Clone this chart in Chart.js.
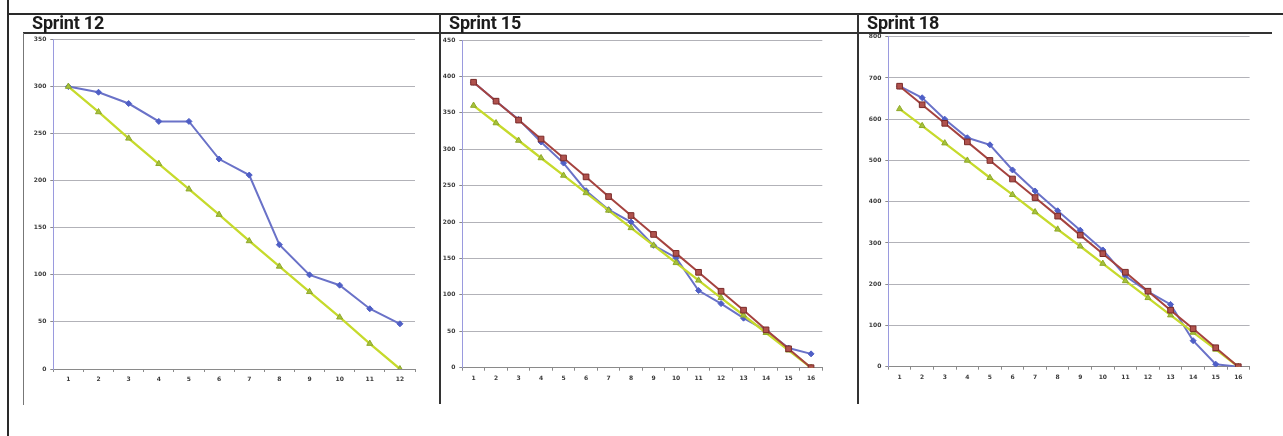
<!DOCTYPE html>
<html>
<head>
<meta charset="utf-8">
<script src="https://cdn.jsdelivr.net/npm/chart.js@4/dist/chart.umd.min.js"></script>
<style>
  html, body { margin: 0; padding: 0; background: #fff; }
  body { position: relative; width: 1283px; height: 436px; overflow: hidden; }
  .rule { position: absolute; background: #2a2a2a; }
  .title { position: absolute; font-family: Roboto, "Open Sans", sans-serif; font-weight: 700;
           font-size: 18px; line-height: 18px; color: #1c1c1c; white-space: nowrap; letter-spacing: -0.2px; }
  canvas { position: absolute; }
</style>
</head>
<body>
<!-- table frame around the three sprint panels -->
<div class="rule" style="left:7px; top:0; width:2px; height:436px;"></div>
<div class="rule" style="left:7px; top:13px; width:1276px; height:2px;"></div>
<div class="rule" style="left:23px; top:32px; width:1249px; height:2px; background:#333;"></div>
<div class="rule" style="left:23px; top:33px; width:1px; height:372px; background:#777;"></div>
<div class="rule" style="left:439px; top:14px; width:2px; height:390px; background:#333;"></div>
<div class="rule" style="left:857px; top:14px; width:2px; height:390px; background:#333;"></div>

<canvas id="c12" width="400" height="380" style="left:24px; top:24px;"></canvas>
<canvas id="c15" width="400" height="380" style="left:442px; top:24px;"></canvas>
<canvas id="c18" width="410" height="380" style="left:860px; top:24px;"></canvas>

<div class="title" style="left:32px; top:14px;">Sprint 12</div>
<div class="title" style="left:449px; top:14px;">Sprint 15</div>
<div class="title" style="left:867px; top:14px;">Sprint 18</div>

<script>
// Sprint 12 burndown (days 1-12)
const s12Days = ['1','2','3','4','5','6','7','8','9','10','11','12'];
const s12Remaining = [300, 294, 282, 263, 263, 223, 206, 132, 100, 89, 64, 48];
const s12Ideal = [300, 273, 245, 218, 191, 164, 136, 109, 82, 55, 27, 0];
const s12Max = 350, s12Step = 50;

// Sprint 15 burndown (days 1-16)
const s15Days = ['1','2','3','4','5','6','7','8','9','10','11','12','13','14','15','16'];
const s15Remaining = [392, 366, 341, 310, 281, 243, 217, 200, 168, 151, 106, 88, 68, 51, 27, 19];
const s15Ideal = [360, 336, 312, 288, 264, 240, 216, 192, 168, 144, 120, 96, 72, 48, 24, 0];
const s15Planned = [392, 366, 340, 314, 288, 262, 235, 209, 183, 157, 131, 105, 79, 52, 26, 0];
const s15Max = 450, s15Step = 50;

// Sprint 18 burndown (days 1-16)
const s18Days = ['1','2','3','4','5','6','7','8','9','10','11','12','13','14','15','16'];
const s18Remaining = [680, 652, 600, 555, 538, 477, 426, 378, 331, 283, 220, 182, 151, 63, 6, 0];
const s18Ideal = [625, 584, 542, 500, 458, 417, 375, 333, 292, 250, 208, 167, 125, 83, 42, 0];
const s18Planned = [680, 635, 590, 545, 500, 455, 410, 365, 319, 274, 229, 183, 137, 92, 46, 0];
const s18Max = 800, s18Step = 100;

const BLUE = '#6a72c8', BLUE_PT = '#4f5fc6';
const GREEN = '#c6da2c', GREEN_PT = '#a6c23a';
const RED = '#a5433f', RED_PT = '#b0524d', RED_EDGE = '#7a2b29';

function remainingSet(data) {
  return { data, borderColor: BLUE, borderWidth: 2, pointStyle: 'rectRot', pointRadius: 3,
           pointBackgroundColor: BLUE_PT, pointBorderColor: BLUE_PT, pointBorderWidth: 1 };
}
function idealSet(data) {
  return { data, borderColor: GREEN, borderWidth: 2.3, pointStyle: 'triangle', pointRadius: 3.5,
           pointBackgroundColor: GREEN_PT, pointBorderColor: '#8fa82a', pointBorderWidth: 1 };
}
function plannedSet(data) {
  return { data, borderColor: RED, borderWidth: 2, pointStyle: 'rect', pointRadius: 4,
           pointBackgroundColor: RED_PT, pointBorderColor: RED_EDGE, pointBorderWidth: 1 };
}

const tickFont = { family: '"DejaVu Sans", sans-serif', size: 6, weight: 'bold' };

function burndown(id, days, datasets, yMax, yStep, box) {
  new Chart(document.getElementById(id), {
    type: 'line',
    data: { labels: days, datasets },
    options: {
      responsive: false,
      animation: false,
      devicePixelRatio: 1,
      layout: { padding: { top: box.top, right: box.right, left: 0, bottom: 0 } },
      plugins: { legend: { display: false }, tooltip: { enabled: false } },
      elements: { line: { tension: 0 } },
      scales: {
        x: {
          type: 'category',
          offset: true,
          grid: { offset: true, drawOnChartArea: false, drawTicks: true, tickLength: 3, color: '#8a8a8a' },
          border: { color: '#8a8a8a', width: 1 },
          ticks: { font: tickFont, color: '#3a3a3a', padding: 4, maxRotation: 0, autoSkip: false },
          afterFit: s => { s.height = box.xh; }
        },
        y: {
          min: 0, max: yMax,
          grid: { color: '#b2b2b8', lineWidth: 1, drawTicks: true, tickLength: 3, tickColor: '#8a8a8a' },
          border: { color: '#9a9ade', width: 1 },
          ticks: { stepSize: yStep, font: tickFont, color: '#3a3a3a', padding: 4 },
          afterFit: s => { s.width = box.yw; }
        }
      }
    }
  });
}

burndown('c12', s12Days, [idealSet(s12Ideal), remainingSet(s12Remaining)], s12Max, s12Step,
         { top: 15.5, right: 9, yw: 29.3, xh: 35 });
burndown('c15', s15Days, [plannedSet(s15Planned), idealSet(s15Ideal), remainingSet(s15Remaining)], s15Max, s15Step,
         { top: 16, right: 19.7, yw: 20.3, xh: 36.3 });
burndown('c18', s18Days, [plannedSet(s18Planned), idealSet(s18Ideal), remainingSet(s18Remaining)], s18Max, s18Step,
         { top: 12.7, right: 20.4, yw: 28.3, xh: 37.3 });
</script>
</body>
</html>
